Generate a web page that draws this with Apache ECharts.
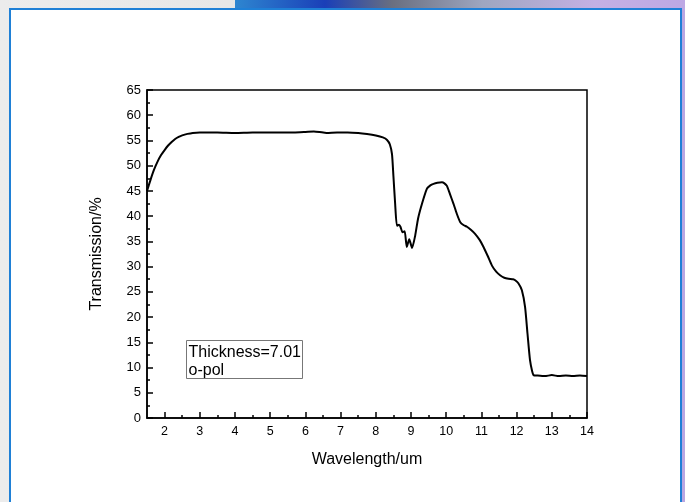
<!DOCTYPE html>
<html>
<head>
  <meta charset="utf-8">
  <title>Transmission</title>
  <script src="https://cdn.jsdelivr.net/npm/echarts@6/dist/echarts.min.js"></script>
  <style>
    html, body { margin: 0; padding: 0; }
    body {
      width: 685px; height: 502px; overflow: hidden; position: relative;
      background: linear-gradient(to right, #ececec 0%, #e6e6e6 40%, #c9c0e6 75%, #b9a6e2 100%);
    }
    #top-strip {
      position: absolute; left: 235px; top: 0; width: 450px; height: 10px;
      background: linear-gradient(to right, #2e86d0 0%, #1a3fb8 20%, #6a6f80 35%, #9ea6c0 55%, #c4b0e4 80%, #bda8e4 100%);
    }
    #frame {
      position: absolute; left: 9px; top: 8px; width: 669px; height: 500px;
      background: #fff; border: 2px solid #1f80d6;
    }
    #main { position: absolute; left: 0; top: 0; width: 685px; height: 502px; }
  </style>
</head>
<body>
<div id="top-strip"></div>
<div id="frame"></div>
<div id="main"></div>
<script type="text/javascript">
  // wavelength (um) and transmission (%)
  var wavelength = [1.5, 1.6, 1.7, 1.8, 1.9, 2.0, 2.1, 2.2, 2.3, 2.4, 2.5, 2.65, 2.8, 3.0, 3.5, 4.0, 4.5, 5.0, 5.3, 5.67, 6.0, 6.24, 6.4, 6.6, 6.9, 7.2, 7.5, 7.75, 8.0, 8.2, 8.32, 8.4, 8.46, 8.5, 8.55, 8.6, 8.66, 8.7, 8.76, 8.82, 8.88, 8.95, 9.03, 9.12, 9.2, 9.31, 9.45, 9.55, 9.64, 9.75, 9.88, 9.95, 10.02, 10.1, 10.21, 10.3, 10.4, 10.5, 10.59, 10.7, 10.82, 10.95, 11.06, 11.18, 11.3, 11.42, 11.53, 11.65, 11.77, 11.9, 11.96, 12.05, 12.15, 12.24, 12.31, 12.38, 12.44, 12.48, 12.6, 12.8, 13.0, 13.2, 13.4, 13.6, 13.8, 14.0];
  var transmission = [45.0, 47.2, 49.2, 50.8, 52.1, 53.1, 54.0, 54.7, 55.3, 55.7, 56.0, 56.3, 56.5, 56.6, 56.6, 56.5, 56.6, 56.6, 56.6, 56.6, 56.7, 56.8, 56.7, 56.5, 56.6, 56.6, 56.5, 56.3, 56.0, 55.6, 55.1, 54.2, 52.3, 48.0, 42.4, 38.1, 38.3, 37.9, 36.8, 37.0, 33.9, 35.4, 33.7, 36.2, 39.5, 42.4, 45.4, 46.1, 46.4, 46.6, 46.7, 46.5, 46.0, 44.5, 42.4, 40.5, 38.8, 38.2, 37.9, 37.3, 36.5, 35.3, 33.9, 32.1, 30.2, 29.0, 28.3, 27.8, 27.6, 27.5, 27.3, 26.7, 25.3, 22.0, 16.7, 11.5, 9.3, 8.5, 8.4, 8.3, 8.5, 8.3, 8.4, 8.3, 8.4, 8.3];

  var xMajorTicks = [2, 3, 4, 5, 6, 7, 8, 9, 10, 11, 12, 13, 14];
  var xMinorTicks = [2.5, 3.5, 4.5, 5.5, 6.5, 7.5, 8.5, 9.5, 10.5, 11.5, 12.5, 13.5];

  var font = '"Liberation Sans", Arial, sans-serif';

  var chartDom = document.getElementById('main');
  var myChart = echarts.init(chartDom, null, { renderer: 'canvas' });

  var option = {
    backgroundColor: 'transparent',
    animation: false,
    grid: {
      left: 147, right: 98, top: 90, bottom: 84,
      show: true, borderColor: '#000', borderWidth: 1.5, backgroundColor: 'transparent'
    },
    xAxis: [{
      type: 'value',
      min: 1.5, max: 14,
      name: 'Wavelength/um',
      nameLocation: 'middle',
      nameGap: 34,
      nameTextStyle: { fontFamily: font, fontSize: 16, color: '#000' },
      axisLine: { show: true, lineStyle: { color: '#000', width: 1.5 } },
      axisTick: { show: true, inside: true, length: 6, customValues: xMajorTicks, lineStyle: { color: '#000', width: 1.5 } },
      axisLabel: { customValues: xMajorTicks, fontFamily: font, fontSize: 12.5, color: '#000', margin: 7 },
      splitLine: { show: false }
    }, {
      type: 'value',
      min: 1.5, max: 14,
      position: 'bottom',
      axisLine: { show: false },
      axisTick: { show: true, inside: true, length: 3, customValues: xMinorTicks, lineStyle: { color: '#000', width: 1.5 } },
      axisLabel: { show: false },
      splitLine: { show: false }
    }],
    yAxis: {
      type: 'value',
      min: 0, max: 65, interval: 5,
      name: 'Transmission/%',
      nameLocation: 'middle',
      nameGap: 42,
      nameTextStyle: { fontFamily: font, fontSize: 16, color: '#000' },
      axisLine: { show: true, lineStyle: { color: '#000', width: 1.5 } },
      axisTick: { show: true, inside: true, length: 6, lineStyle: { color: '#000', width: 1.5 } },
      minorTick: { show: true, splitNumber: 2, length: 3, lineStyle: { color: '#000', width: 1.5 } },
      axisLabel: { fontFamily: font, fontSize: 13, color: '#000', margin: 6 },
      splitLine: { show: false }
    },
    series: [{
      type: 'line',
      xAxisIndex: 0,
      data: wavelength.map(function (w, i) { return [w, transmission[i]]; }),
      showSymbol: false,
      smooth: 0.2,
      lineStyle: { color: '#000', width: 2 },
      itemStyle: { color: '#000' }
    }],
    graphic: [{
      type: 'group',
      left: 186, top: 340,
      children: [{
        type: 'rect',
        shape: { x: 0, y: 0, width: 116, height: 38 },
        style: { fill: '#fff', stroke: '#777', lineWidth: 1 }
      }, {
        type: 'text',
        x: 2, y: 3,
        style: { text: 'Thickness=7.01\no-pol', fontFamily: font, fontSize: 16, lineHeight: 18, fill: '#000' }
      }]
    }]
  };

  option && myChart.setOption(option);
</script>
</body>
</html>
